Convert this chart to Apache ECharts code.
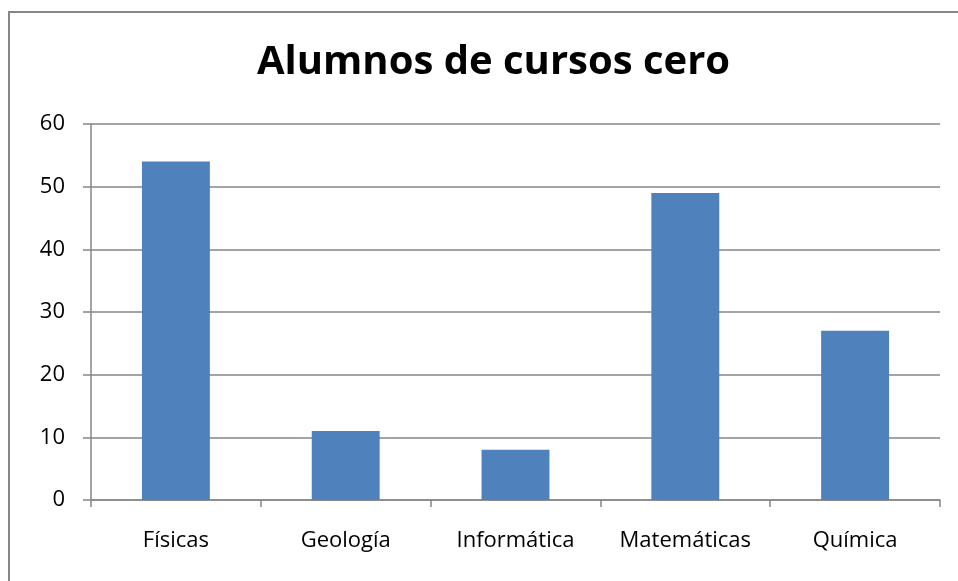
<!DOCTYPE html>
<html lang="es">

<head>
  <meta charset="UTF-8">
  <title>Alumnos de cursos cero</title>
  <script src="https://cdn.jsdelivr.net/npm/echarts@6/dist/echarts.min.js"></script>
  <style>
    html, body { margin: 0; padding: 0; background: #fff; }
    #main { width: 958px; height: 581px; }
  </style>
</head>

<body>
  <div id="main"></div>
  <script>
    // datos
    var categorias = ['Físicas', 'Geología', 'Informática', 'Matemáticas', 'Química']
    var alumnos = [54, 11, 8, 49, 27]

    var chart = echarts.init(document.getElementById('main'))
    var fuente = 'Open Sans'

    var option = {
      animation: false,
      backgroundColor: '#fff',
      title: {
        text: 'Alumnos de cursos cero',
        left: 252,
        top: 38,
        textStyle: { fontFamily: fuente, fontWeight: 'bold', fontSize: 40, color: '#000' }
      },
      // marco exterior del grafico
      graphic: [{
        type: 'rect',
        shape: { x: 9, y: 12, width: 1000, height: 620 },
        style: { fill: null, stroke: '#868686', lineWidth: 2 },
        silent: true
      }],
      grid: { left: 91, right: 18, top: 124, bottom: 81 },
      xAxis: {
        type: 'category',
        data: categorias,
        axisLine: { lineStyle: { color: '#868686', width: 1.5 } },
        axisTick: { show: true, length: 7, lineStyle: { color: '#868686', width: 1.5 } },
        axisLabel: { interval: 0, hideOverlap: false, fontFamily: fuente, fontSize: 22, color: '#000', margin: 30 }
      },
      yAxis: {
        type: 'value',
        min: 0,
        max: 60,
        interval: 10,
        axisLine: { show: true, lineStyle: { color: '#868686', width: 1.5 } },
        axisTick: { show: true, length: 8, lineStyle: { color: '#868686', width: 1.5 } },
        axisLabel: { fontFamily: fuente, fontSize: 22, color: '#000', margin: 26 },
        splitLine: { lineStyle: { color: '#868686', width: 1.5 } }
      },
      series: [{
        type: 'bar',
        data: alumnos,
        barWidth: '40%',
        itemStyle: { color: '#4F81BD' }
      }]
    }
    chart.setOption(option)
  </script>
</body>

</html>
